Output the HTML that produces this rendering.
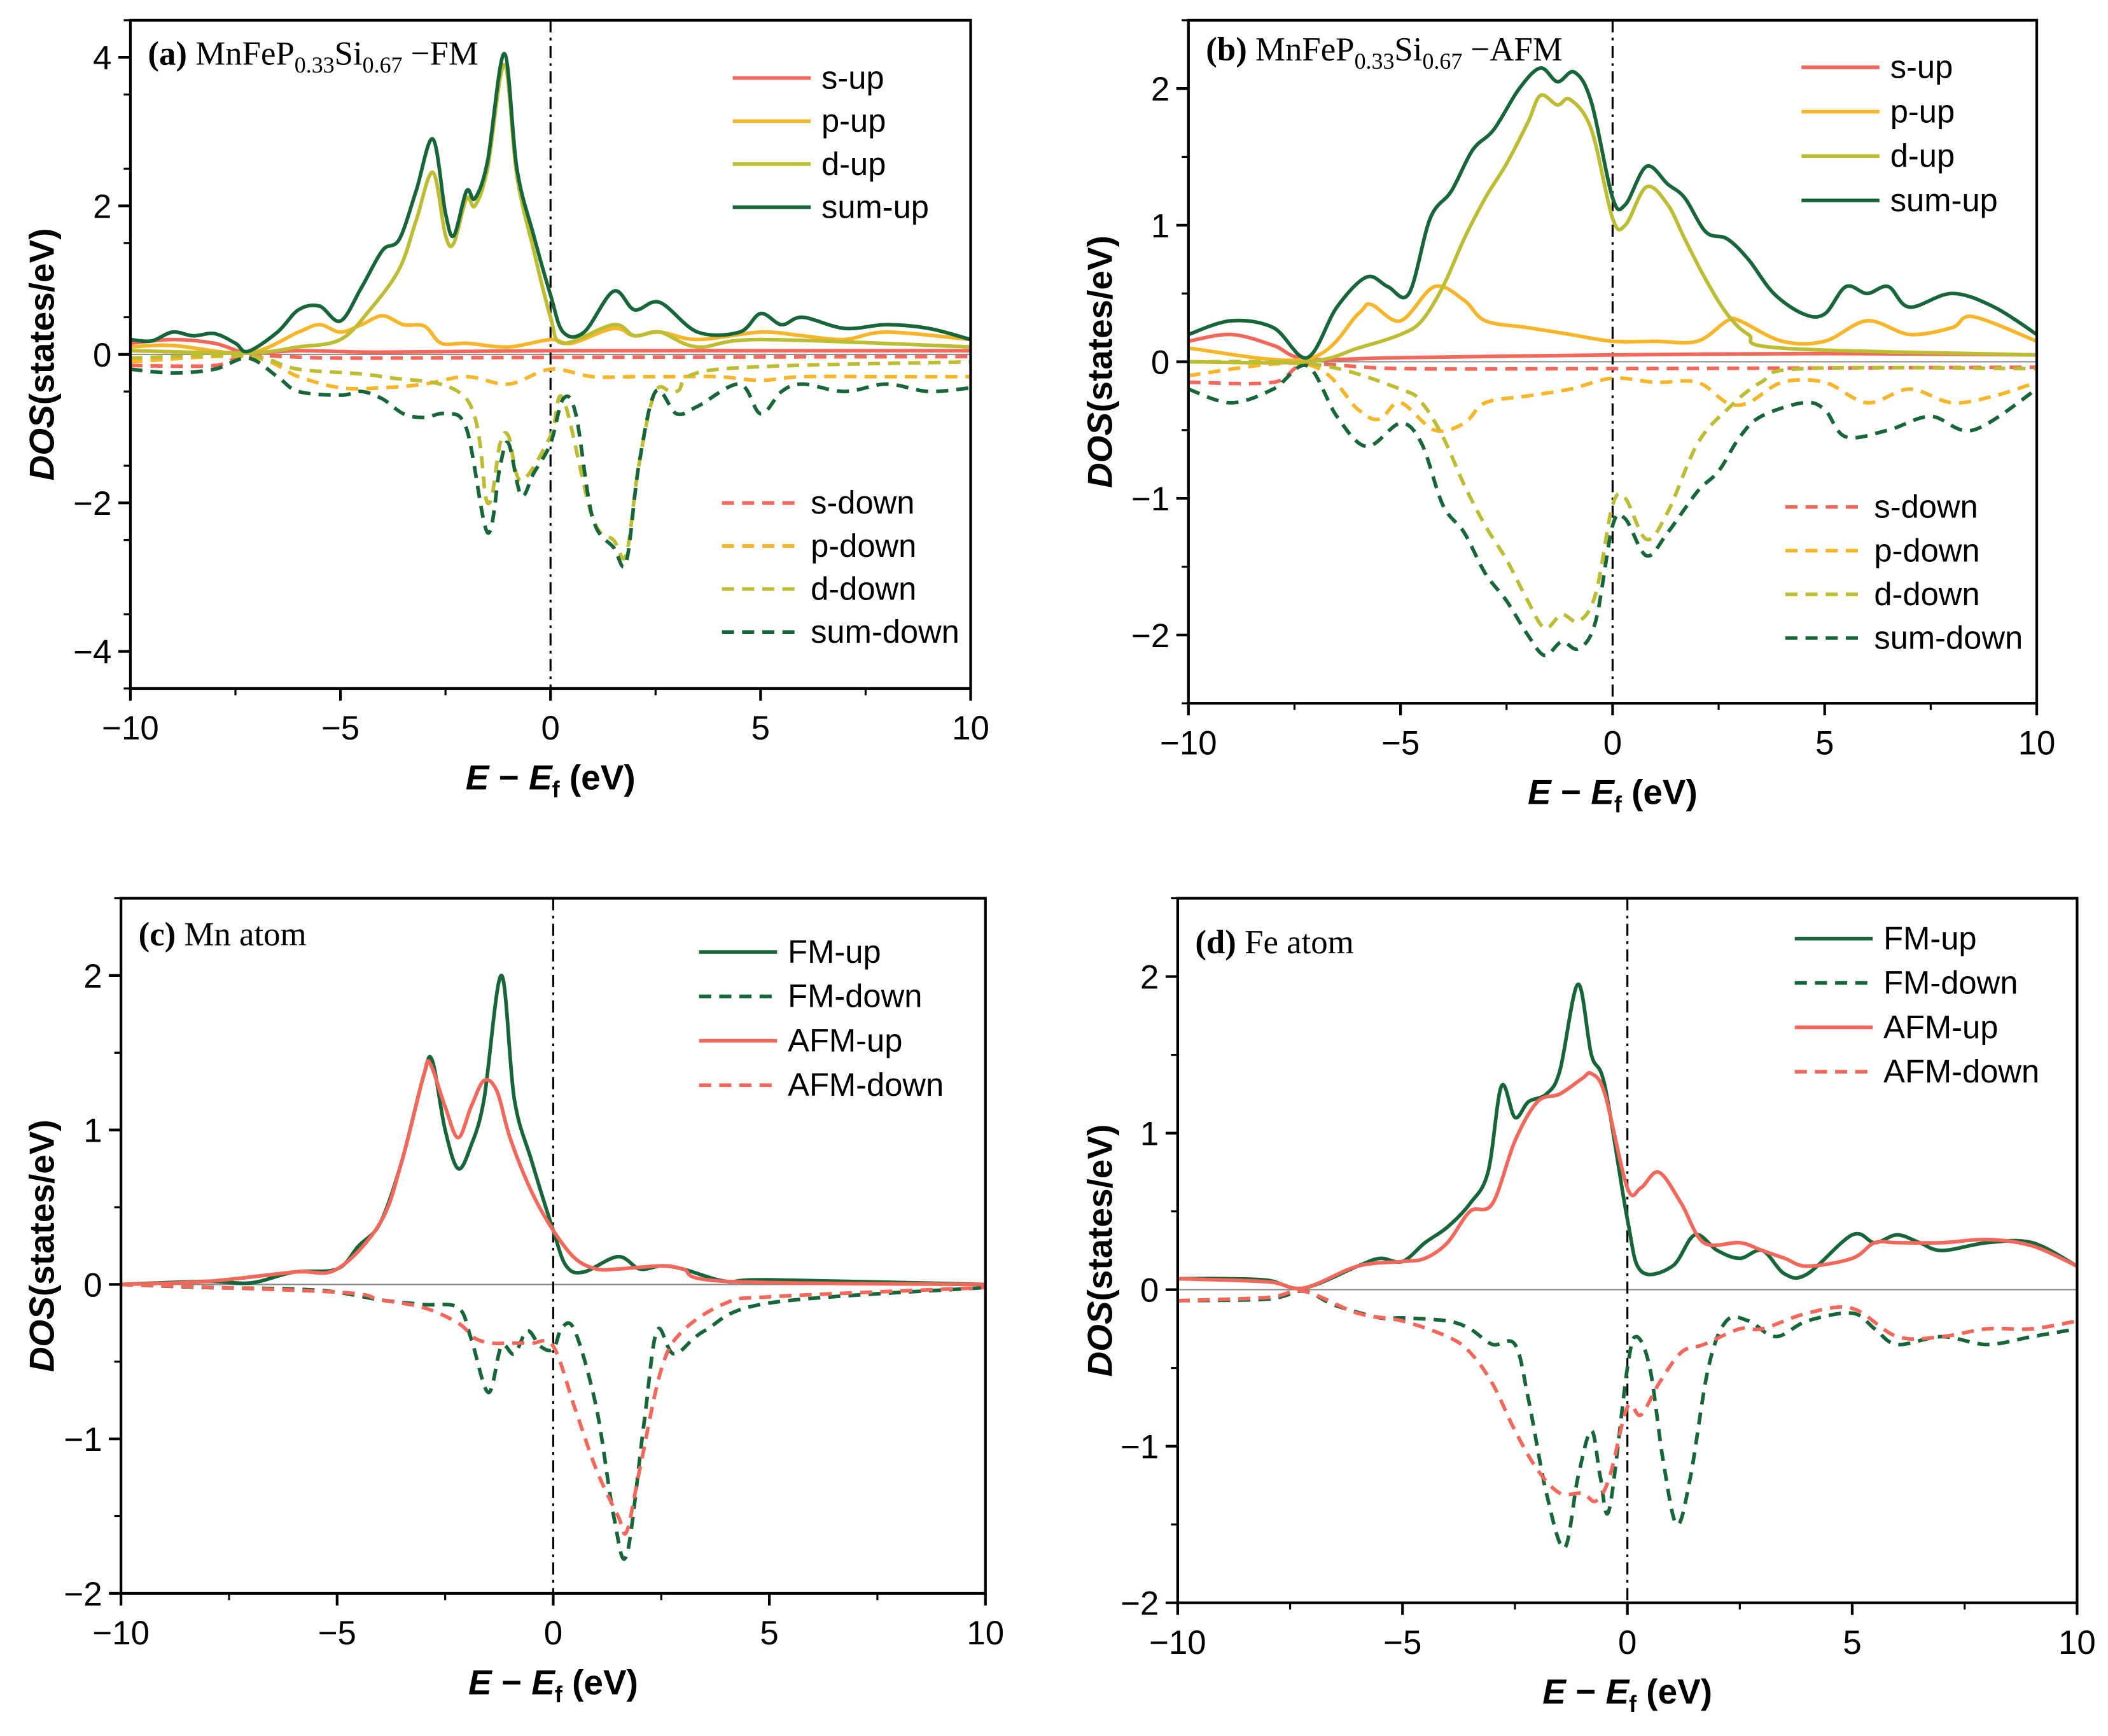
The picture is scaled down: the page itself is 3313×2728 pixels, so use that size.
<!DOCTYPE html>
<html><head><meta charset="utf-8"><style>
html,body{margin:0;padding:0;background:#fff}
svg{display:block}
text{font-family:"Liberation Sans",sans-serif}
.serif{font-family:"Liberation Serif",serif}
</style></head><body>
<svg id="fig" width="3313" height="2728" viewBox="0 0 1568 1291" xmlns="http://www.w3.org/2000/svg"></svg>
<script>
// ---------- Data (x in eV, y in states/eV) ----------
const xTicks = [-10,-5,0,5,10];
const xTickLabels = ["\u221210","\u22125","0","5","10"];
// Panel (a)
const aSumUp = [[-10,0.2],[-9.5,0.18],[-9,0.3],[-8.5,0.25],[-8,0.28],[-7.5,0.15],[-7.2,0.04],[-6.5,0.3],[-6,0.6],[-5.5,0.65],[-5,0.45],[-4.5,0.9],[-4,1.4],[-3.6,1.55],[-3.2,2.2],[-2.8,2.9],[-2.5,1.9],[-2.3,1.6],[-2,2.2],[-1.8,2.1],[-1.5,2.6],[-1.1,4.05],[-0.8,2.5],[-0.4,1.6],[0,0.8],[0.3,0.3],[0.8,0.3],[1.5,0.85],[2,0.6],[2.6,0.7],[3.5,0.3],[4.5,0.3],[5,0.55],[5.5,0.4],[6,0.5],[7,0.35],[8,0.4],[9,0.35],[10,0.2]];
const aDUp = [[-10,0.05],[-7.2,0.02],[-6,0.1],[-5,0.2],[-4.3,0.6],[-3.6,1.15],[-3.2,1.8],[-2.8,2.45],[-2.5,1.6],[-2.3,1.5],[-2,2.1],[-1.8,2.0],[-1.5,2.5],[-1.1,3.9],[-0.8,2.4],[-0.4,1.4],[0,0.5],[0.3,0.15],[1.5,0.4],[2,0.25],[2.6,0.3],[3.5,0.1],[5,0.2],[10,0.1]];
const aPUp = [[-10,0.1],[-9,0.12],[-7.2,0.02],[-6,0.3],[-5.5,0.4],[-5,0.3],[-4.5,0.4],[-4,0.52],[-3.5,0.4],[-3,0.38],[-2.6,0.15],[-2,0.15],[-1,0.1],[0,0.2],[0.5,0.15],[1.5,0.35],[2,0.25],[2.6,0.3],[3.5,0.2],[5,0.3],[6,0.25],[7,0.2],[8,0.3],[10,0.2]];
const aSUp = [[-10,0.15],[-9,0.2],[-8,0.15],[-7.2,0.02],[-6,0.05],[-4,0.03],[0,0.05],[5,0.05],[10,0.05]];
const aSumDown = [[-10,-0.2],[-9,-0.25],[-8,-0.2],[-7.2,-0.05],[-6.5,-0.3],[-6,-0.5],[-5,-0.55],[-4.5,-0.5],[-4,-0.6],[-3.5,-0.8],[-3,-0.85],[-2.5,-0.8],[-2,-1.0],[-1.5,-2.4],[-1.2,-1.5],[-1,-1.2],[-0.7,-1.9],[-0.4,-1.6],[0,-1.2],[0.3,-0.6],[0.6,-0.8],[1,-2.2],[1.5,-2.6],[1.8,-2.8],[2.1,-1.5],[2.5,-0.5],[3,-0.8],[3.5,-0.7],[4.5,-0.4],[5,-0.8],[5.5,-0.5],[6,-0.4],[7,-0.5],[8,-0.4],[9,-0.5],[10,-0.45]];
const aDDown = [[-10,-0.05],[-7.2,-0.02],[-6,-0.2],[-4,-0.3],[-2,-0.6],[-1.5,-2.0],[-1.2,-1.2],[-1,-1.1],[-0.7,-1.7],[0,-1.1],[0.3,-0.6],[1,-2.2],[1.5,-2.5],[1.8,-2.7],[2.1,-1.5],[2.5,-0.5],[3,-0.5],[4,-0.2],[10,-0.1]];
const aPDown = [[-10,-0.1],[-7.2,-0.03],[-6,-0.3],[-5,-0.45],[-4,-0.45],[-3,-0.4],[-2,-0.3],[-1,-0.4],[0,-0.2],[1,-0.3],[2,-0.3],[3,-0.3],[4,-0.3],[5,-0.35],[6,-0.3],[8,-0.3],[10,-0.3]];
const aSDown = [[-10,-0.15],[-8,-0.15],[-7.2,-0.02],[-5,-0.05],[0,-0.04],[10,-0.03]];
// Panel (b)
const bSumUp = [[-10,0.2],[-9,0.3],[-8,0.25],[-7.2,0.03],[-6.5,0.4],[-5.8,0.62],[-5.3,0.55],[-4.8,0.5],[-4.3,1.05],[-3.8,1.25],[-3.3,1.55],[-2.8,1.7],[-2.2,2.0],[-1.7,2.15],[-1.3,2.05],[-0.9,2.12],[-0.5,1.9],[0,1.2],[0.3,1.15],[0.8,1.43],[1.3,1.3],[1.7,1.2],[2.2,0.95],[2.7,0.9],[3.2,0.75],[3.8,0.5],[4.5,0.35],[5.0,0.35],[5.5,0.55],[6,0.5],[6.5,0.55],[7,0.4],[8,0.5],[9,0.4],[10,0.2]];
const bDUp = [[-10,0.0],[-7.2,0.0],[-6,0.1],[-5,0.2],[-4.5,0.3],[-4,0.55],[-3.5,0.9],[-3,1.2],[-2.5,1.45],[-2,1.75],[-1.7,1.95],[-1.3,1.88],[-1,1.92],[-0.5,1.7],[0,1.05],[0.3,1.0],[0.8,1.28],[1.3,1.15],[1.7,0.9],[2.2,0.6],[2.7,0.35],[3.2,0.2],[4,0.1],[10,0.05]];
const bPUp = [[-10,0.1],[-7.2,0.02],[-6,0.35],[-5.7,0.42],[-5,0.3],[-4.2,0.55],[-3.5,0.45],[-3,0.3],[-2,0.25],[-1,0.2],[0,0.15],[1,0.15],[2,0.15],[2.7,0.3],[3,0.3],[4,0.15],[5,0.15],[6,0.3],[7,0.2],[8,0.25],[8.5,0.33],[10,0.15]];
const bSUp = [[-10,0.15],[-9,0.2],[-8,0.12],[-7.2,0.02],[-5,0.03],[0,0.05],[5,0.06],[10,0.05]];
const bSumDown = [[-10,-0.2],[-9,-0.3],[-8,-0.2],[-7.2,-0.03],[-6.5,-0.4],[-5.8,-0.62],[-5,-0.45],[-4.5,-0.6],[-4,-1.05],[-3.5,-1.25],[-3,-1.55],[-2.5,-1.75],[-2,-2.0],[-1.6,-2.15],[-1.2,-2.05],[-0.8,-2.1],[-0.4,-1.9],[0,-1.2],[0.3,-1.15],[0.8,-1.42],[1.3,-1.25],[2,-0.95],[2.5,-0.8],[3,-0.55],[3.5,-0.4],[4.5,-0.3],[5,-0.35],[5.5,-0.55],[6.5,-0.5],[7.5,-0.4],[8.5,-0.5],[10,-0.2]];
const bDDown = [[-10,0],[-7,-0.02],[-5,-0.2],[-4.5,-0.3],[-4,-0.55],[-3.5,-0.9],[-3,-1.2],[-2.5,-1.45],[-2,-1.75],[-1.6,-1.95],[-1.2,-1.85],[-0.8,-1.9],[-0.4,-1.7],[0,-1.05],[0.3,-1.0],[0.8,-1.3],[1.3,-1.1],[2,-0.6],[2.7,-0.35],[3.5,-0.15],[4.5,-0.05],[10,-0.05]];
const bPDown = [[-10,-0.1],[-7.2,-0.02],[-6,-0.35],[-5.5,-0.42],[-5,-0.3],[-4.2,-0.5],[-3.5,-0.45],[-3,-0.3],[-2,-0.25],[-1,-0.2],[0,-0.12],[1,-0.15],[2,-0.15],[2.7,-0.3],[3.2,-0.3],[4,-0.15],[5,-0.15],[6,-0.3],[7,-0.2],[8,-0.3],[9,-0.25],[10,-0.15]];
const bSDown = [[-10,-0.15],[-8,-0.15],[-7.2,-0.02],[-5,-0.05],[0,-0.05],[10,-0.04]];
// Panel (c)
const cFMUp = [[-10,0],[-8,0.02],[-7,0.01],[-6,0.08],[-5,0.1],[-4.5,0.25],[-4,0.4],[-3.5,0.8],[-3,1.35],[-2.8,1.45],[-2.5,1.0],[-2.2,0.75],[-1.9,0.9],[-1.6,1.2],[-1.2,2.0],[-0.9,1.2],[-0.5,0.8],[0,0.35],[0.3,0.12],[0.7,0.08],[1.5,0.18],[2,0.1],[2.5,0.12],[3,0.1],[4,0.02],[5,0.03],[10,0]];
const cFMDown = [[-10,0],[-8,-0.02],[-6,-0.03],[-5,-0.05],[-4,-0.1],[-3,-0.13],[-2.2,-0.15],[-1.9,-0.35],[-1.5,-0.7],[-1.2,-0.4],[-0.9,-0.45],[-0.6,-0.3],[-0.3,-0.4],[0,-0.42],[0.2,-0.28],[0.5,-0.3],[1,-0.8],[1.4,-1.5],[1.7,-1.75],[2.1,-0.9],[2.4,-0.3],[2.8,-0.45],[3.5,-0.3],[5,-0.12],[10,-0.02]];
const cAFMUp = [[-10,0],[-8,0.02],[-6,0.08],[-5,0.1],[-4,0.4],[-3.5,0.8],[-3,1.35],[-2.85,1.43],[-2.5,1.15],[-2.2,0.95],[-1.9,1.15],[-1.6,1.32],[-1.3,1.25],[-1,0.95],[-0.5,0.6],[0,0.35],[0.5,0.17],[1,0.1],[1.5,0.1],[2.5,0.12],[3,0.1],[4,0.02],[10,0]];
const cAFMDown = [[-10,0],[-5,-0.05],[-4,-0.1],[-3,-0.15],[-2.2,-0.25],[-1.8,-0.35],[-1.4,-0.38],[-1,-0.38],[-0.5,-0.38],[0,-0.4],[0.5,-0.8],[1,-1.2],[1.5,-1.5],[1.7,-1.6],[2,-1.2],[2.5,-0.55],[3,-0.3],[4,-0.12],[5,-0.08],[10,-0.02]];
// Panel (d)
const dFMUp = [[-10,0.07],[-9,0.07],[-8,0.06],[-7.2,0.01],[-6,0.15],[-5.5,0.2],[-5,0.18],[-4.5,0.3],[-4,0.4],[-3.5,0.55],[-3.1,0.75],[-2.8,1.3],[-2.5,1.1],[-2.2,1.2],[-1.8,1.25],[-1.5,1.4],[-1.1,1.95],[-0.8,1.5],[-0.5,1.3],[0,0.45],[0.3,0.12],[1,0.15],[1.5,0.35],[2,0.25],[2.5,0.2],[3,0.25],[3.5,0.1],[4,0.1],[5,0.35],[5.5,0.3],[6,0.35],[6.5,0.3],[7,0.25],[8,0.3],[9,0.3],[10,0.15]];
const dFMDown = [[-10,-0.07],[-8,-0.06],[-7.2,-0.01],[-6.5,-0.1],[-5.5,-0.18],[-5,-0.18],[-4,-0.2],[-3.5,-0.25],[-3,-0.35],[-2.5,-0.35],[-2.2,-0.7],[-1.8,-1.3],[-1.4,-1.65],[-1.1,-1.2],[-0.8,-0.9],[-0.6,-1.2],[-0.4,-1.4],[0,-0.5],[0.2,-0.3],[0.5,-0.5],[0.8,-1.1],[1.1,-1.5],[1.4,-1.2],[1.8,-0.5],[2.2,-0.2],[2.7,-0.2],[3.3,-0.3],[4,-0.2],[5,-0.15],[5.5,-0.25],[6,-0.35],[7,-0.3],[8,-0.35],[9,-0.3],[10,-0.25]];
const dAFMUp = [[-10,0.07],[-8,0.05],[-7.2,0.01],[-6,0.15],[-5,0.18],[-4.5,0.2],[-4,0.3],[-3.5,0.5],[-3,0.55],[-2.5,0.95],[-2,1.2],[-1.5,1.25],[-1,1.35],[-0.8,1.38],[-0.5,1.25],[0,0.65],[0.3,0.65],[0.7,0.75],[1.2,0.55],[1.7,0.3],[2.5,0.3],[3,0.25],[3.5,0.2],[4,0.15],[5,0.2],[5.5,0.3],[6,0.3],[7,0.3],[8,0.32],[9,0.28],[10,0.15]];
const dAFMDown = [[-10,-0.07],[-8,-0.05],[-7.2,-0.01],[-6,-0.15],[-5,-0.2],[-4,-0.3],[-3.5,-0.4],[-3,-0.6],[-2.5,-0.9],[-2,-1.15],[-1.5,-1.3],[-1,-1.3],[-0.7,-1.35],[-0.4,-1.2],[0,-0.75],[0.3,-0.8],[0.7,-0.6],[1.2,-0.4],[1.7,-0.35],[2.5,-0.25],[3,-0.25],[4,-0.15],[5,-0.12],[6,-0.3],[7,-0.3],[8,-0.25],[9,-0.25],[10,-0.2]];

const aYTicks=[4,2,0,-2,-4], bYTicks=[2,1,0,-1,-2], cYTicks=[2,1,0,-1,-2], dYTicks=[2,1,0,-1,-2];

const GREEN="#17663a", RED="#f4675b", ORANGE="#f7b52a", OLIVE="#bcbd33";
const NS="http://www.w3.org/2000/svg";
const svg=document.getElementById('fig');
function el(tag,attrs,parent,txt){const e=document.createElementNS(NS,tag);for(const k in attrs)e.setAttribute(k,attrs[k]);if(txt!==undefined)e.textContent=txt;(parent||svg).appendChild(e);return e;}

function panel(cfg){
  const g=el('g',{});
  
  
  const X=v=>cfg.L+(v+10)/20*(cfg.R-cfg.L);
  const Y=v=>cfg.B-(v-cfg.ymin)/(cfg.ymax-cfg.ymin)*(cfg.B-cfg.T);
  const z=el('line',{x1:cfg.L,x2:cfg.R,y1:Y(0),y2:Y(0),stroke:'#888','stroke-width':1},g);
  
  const f=el('line',{x1:X(0),x2:X(0),y1:cfg.T,y2:cfg.B,stroke:'#000','stroke-width':1.5,'stroke-dasharray':'9 4 2 4'},g);
  
  cfg.series.forEach(s=>{
    const p=s.data.map(d=>[X(d[0]),Y(d[1])]);
    let dstr='M'+p[0][0].toFixed(2)+','+p[0][1].toFixed(2);
    for(let i=0;i<p.length-1;i++){
      const p0=p[i-1]||p[i],p1=p[i],p2=p[i+1],p3=p[i+2]||p2;
      const c1=[p1[0]+(p2[0]-p0[0])/6,p1[1]+(p2[1]-p0[1])/6];
      const c2=[p2[0]-(p3[0]-p1[0])/6,p2[1]-(p3[1]-p1[1])/6];
      dstr+=`C${c1[0].toFixed(2)},${c1[1].toFixed(2)} ${c2[0].toFixed(2)},${c2[1].toFixed(2)} ${p2[0].toFixed(2)},${p2[1].toFixed(2)}`;
    }
    const path=el('path',{d:dstr,fill:'none',stroke:s.color,'stroke-width':2.7,'stroke-dasharray':s.dash?'9 6':'none','stroke-linejoin':'round'},g);
    
    
  });
  const fr=el('rect',{x:cfg.L,y:cfg.T,width:cfg.R-cfg.L,height:cfg.B-cfg.T,fill:'none',stroke:'#000','stroke-width':2},g);
  
  xTicks.forEach((t,i)=>{
    el('line',{x1:X(t),x2:X(t),y1:cfg.B,y2:cfg.B+9,stroke:'#000','stroke-width':2},g);
    if(i<xTicks.length-1) el('line',{x1:X(t+2.5),x2:X(t+2.5),y1:cfg.B,y2:cfg.B+5,stroke:'#000','stroke-width':1.5},g);
    const tl=el('text',{x:X(t),y:cfg.B+38,'text-anchor':'middle','font-size':25},g,xTickLabels[i]);
    
  });
  cfg.yTicks.forEach((t,i)=>{
    el('line',{x1:cfg.L-9,x2:cfg.L,y1:Y(t),y2:Y(t),stroke:'#000','stroke-width':2},g);
    const yl=el('text',{x:cfg.L-14,y:Y(t)+9,'text-anchor':'end','font-size':25},g,t<0?'\u2212'+(-t):String(t));
    
  });
  for(let v=cfg.ymin;v<=cfg.ymax+1e-9;v+=cfg.minor){
    el('line',{x1:cfg.L-5,x2:cfg.L,y1:Y(v),y2:Y(v),stroke:'#000','stroke-width':1.5},g);
  }
  const xt=el('text',{x:(cfg.L+cfg.R)/2,y:cfg.B+75,'text-anchor':'middle','font-size':26,'font-weight':'bold'},g);
  
  xt.innerHTML='<tspan font-style="italic">E</tspan> \u2212 <tspan font-style="italic">E</tspan><tspan font-size="17" dy="6">f</tspan><tspan dy="-6"> (eV)</tspan>';
  const cy=(cfg.T+cfg.B)/2;
  const yt=el('text',{x:cfg.ytx,y:cy,'text-anchor':'middle','font-size':26,'font-weight':'bold',transform:`rotate(-90 ${cfg.ytx} ${cy})`},g);
  
  yt.innerHTML='<tspan font-style="italic">DOS</tspan>(states/eV)';
  const tt=el('text',{x:cfg.L+13,y:cfg.titleY,'font-size':25,class:'serif'},g);
  
  tt.innerHTML=cfg.title;
  cfg.legend.forEach((l,i)=>{
    const lg=el('g',{},g);
    
    
    const y=l.y;
    el('line',{x1:l.x,x2:l.x+58,y1:y,y2:y,stroke:l.color,'stroke-width':2.7,'stroke-dasharray':l.dash?'9 6':'none'},lg);
    el('text',{x:l.x+66,y:y+8,'font-size':24},lg,l.name);
  });
}

function leg(names,colors,dashes,x,y0,step){return names.map((n,i)=>({name:n,color:colors[i],dash:dashes[i],x:x,y:y0+i*step}));}

panel({id:'a',L:97,R:722,T:15,B:512,ymin:-4.5,ymax:4.5,minor:1,yTicks:aYTicks,ytx:40,titleY:48,
 title:'<tspan font-weight="bold">(a)</tspan> MnFeP<tspan font-size="17" dy="6">0.33</tspan><tspan dy="-6">Si</tspan><tspan font-size="17" dy="6">0.67</tspan><tspan dy="-6"> \u2212FM</tspan>',
 series:[{name:'s-up',data:aSUp,color:RED},{name:'p-up',data:aPUp,color:ORANGE},{name:'s-down',data:aSDown,color:RED,dash:1},{name:'p-down',data:aPDown,color:ORANGE,dash:1},{name:'d-down',data:aDDown,color:OLIVE,dash:1},{name:'sum-down',data:aSumDown,color:GREEN,dash:1},{name:'d-up',data:aDUp,color:OLIVE},{name:'sum-up',data:aSumUp,color:GREEN}],
 legend:leg(['s-up','p-up','d-up','sum-up'],[RED,ORANGE,OLIVE,GREEN],[0,0,0,0],545,58,32).concat(leg(['s-down','p-down','d-down','sum-down'],[RED,ORANGE,OLIVE,GREEN],[1,1,1,1],537,374,32))});
panel({id:'b',L:884,R:1515,T:15,B:523,ymin:-2.5,ymax:2.5,minor:0.5,yTicks:bYTicks,ytx:827,titleY:45,
 title:'<tspan font-weight="bold">(b)</tspan> MnFeP<tspan font-size="17" dy="6">0.33</tspan><tspan dy="-6">Si</tspan><tspan font-size="17" dy="6">0.67</tspan><tspan dy="-6"> \u2212AFM</tspan>',
 series:[{name:'s-up',data:bSUp,color:RED},{name:'p-up',data:bPUp,color:ORANGE},{name:'s-down',data:bSDown,color:RED,dash:1},{name:'p-down',data:bPDown,color:ORANGE,dash:1},{name:'d-down',data:bDDown,color:OLIVE,dash:1},{name:'sum-down',data:bSumDown,color:GREEN,dash:1},{name:'d-up',data:bDUp,color:OLIVE},{name:'sum-up',data:bSumUp,color:GREEN}],
 legend:leg(['s-up','p-up','d-up','sum-up'],[RED,ORANGE,OLIVE,GREEN],[0,0,0,0],1340,50,33).concat(leg(['s-down','p-down','d-down','sum-down'],[RED,ORANGE,OLIVE,GREEN],[1,1,1,1],1328,377,32.5))});
panel({id:'c',L:90,R:733,T:668,B:1185,ymin:-2,ymax:2.5,minor:0.5,yTicks:cYTicks,ytx:40,titleY:703,
 title:'<tspan font-weight="bold">(c)</tspan> Mn atom',
 series:[{name:'fm-down',data:cFMDown,color:GREEN,dash:1},{name:'afm-down',data:cAFMDown,color:RED,dash:1},{name:'fm-up',data:cFMUp,color:GREEN},{name:'afm-up',data:cAFMUp,color:RED}],
 legend:leg(['FM-up','FM-down','AFM-up','AFM-down'],[GREEN,GREEN,RED,RED],[0,1,0,1],520,708,33)});
panel({id:'d',L:876,R:1545,T:668,B:1192,ymin:-2,ymax:2.5,minor:0.5,yTicks:dYTicks,ytx:827,titleY:709,
 title:'<tspan font-weight="bold">(d)</tspan> Fe atom',
 series:[{name:'fm-down',data:dFMDown,color:GREEN,dash:1},{name:'afm-down',data:dAFMDown,color:RED,dash:1},{name:'fm-up',data:dFMUp,color:GREEN},{name:'afm-up',data:dAFMUp,color:RED}],
 legend:leg(['FM-up','FM-down','AFM-up','AFM-down'],[GREEN,GREEN,RED,RED],[0,1,0,1],1335,698,33)});
</script>
</body></html>
